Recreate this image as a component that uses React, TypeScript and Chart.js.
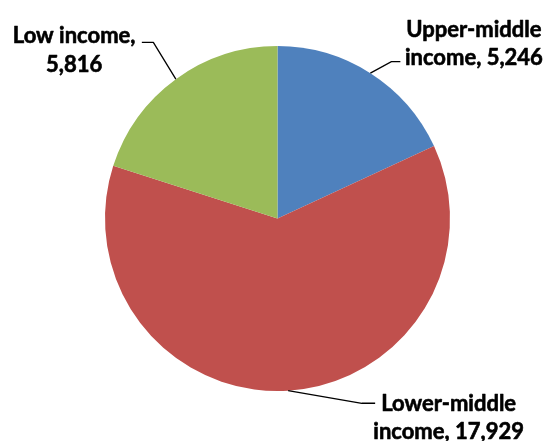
import React, { useEffect, useRef } from "react";
import { Chart, registerables } from "chart.js";

Chart.register(...registerables);

const categories = ["Upper-middle income", "Lower-middle income", "Low income"];
const values = [5246, 17929, 5816];
const colors = ["#4F81BD", "#C0504D", "#9BBB59"];

// label text lines for each slice (value appended by code)
const labelHead = [["Upper-middle"], ["Lower-middle"], []];
const labelTail = ["income, ", "income, ", "Low income,"];
const valueOnOwnLine = [false, false, true];

// leader-line / label layout (offsets from slice mid point on the rim)
const LAYOUT = [
  { elbow: [21, -11.5], end: [30, -11.5], text: [73.5, -25, 1.3] },
  { elbow: [73.7, 12.6], end: [87, 12.6], text: [73.5, 7.7, 36] },
  { elbow: [-22.5, -36.8], end: [-34, -36.8], text: [-67.7, 1, 29.4] },
];

const fmt = (v: number) => v.toLocaleString("en-US");

const labelPlugin = {
  id: "leaderLabels",
  afterDraw(chart: any) {
    const ctx = chart.ctx;
    const meta = chart.getDatasetMeta(0);
    ctx.save();
    meta.data.forEach((arc: any, i: number) => {
      const { x, y, startAngle, endAngle, outerRadius } = arc.getProps(
        ["x", "y", "startAngle", "endAngle", "outerRadius"],
        true
      );
      const mid = (startAngle + endAngle) / 2;
      const sx = x + Math.cos(mid) * outerRadius;
      const sy = y + Math.sin(mid) * outerRadius;
      const L = LAYOUT[i];
      ctx.strokeStyle = "#000";
      ctx.lineWidth = 1.3;
      ctx.beginPath();
      ctx.moveTo(sx, sy);
      ctx.lineTo(sx + L.elbow[0], sy + L.elbow[1]);
      ctx.lineTo(sx + L.end[0], sy + L.end[1]);
      ctx.stroke();

      const ex = sx + L.end[0];
      const ey = sy + L.end[1];
      const cx = ex + L.text[0];
      const b1 = ey + L.text[1];
      const lines: string[] = [...labelHead[i]];
      if (valueOnOwnLine[i]) {
        lines.push(labelTail[i]);
        lines.push(fmt(values[i]));
      } else {
        lines.push(labelTail[i] + fmt(values[i]));
      }
      ctx.fillStyle = "#000";
      ctx.font = "bold 22px Lato";
      ctx.textAlign = "center";
      ctx.textBaseline = "alphabetic";
      ctx.lineWidth = 0.6;
      ctx.lineJoin = "round";
      const lh = 28.3;
      lines.forEach((t, k) => {
        ctx.fillText(t, cx, b1 + k * lh);
        ctx.strokeText(t, cx, b1 + k * lh);
      });
    });
    ctx.restore();
  },
};

export default function App() {
  const ref = useRef<HTMLCanvasElement | null>(null);
  useEffect(() => {
    document.body.style.margin = "0";
    const chart = new Chart(ref.current as HTMLCanvasElement, {
      type: "pie",
      data: {
        labels: categories,
        datasets: [
          {
            data: values,
            backgroundColor: colors,
            borderWidth: 0,
          },
        ],
      },
      options: {
        responsive: false,
        maintainAspectRatio: false,
        animation: false,
        layout: { padding: { left: 105, right: 97, top: 46, bottom: 50 } },
        plugins: {
          legend: { display: false },
          tooltip: { enabled: false },
        },
      },
      plugins: [labelPlugin],
    });
    return () => chart.destroy();
  }, []);
  return (
    <div style={{ width: 547, height: 441, background: "#fff" }}>
      <canvas ref={ref} width={547} height={441} />
    </div>
  );
}
